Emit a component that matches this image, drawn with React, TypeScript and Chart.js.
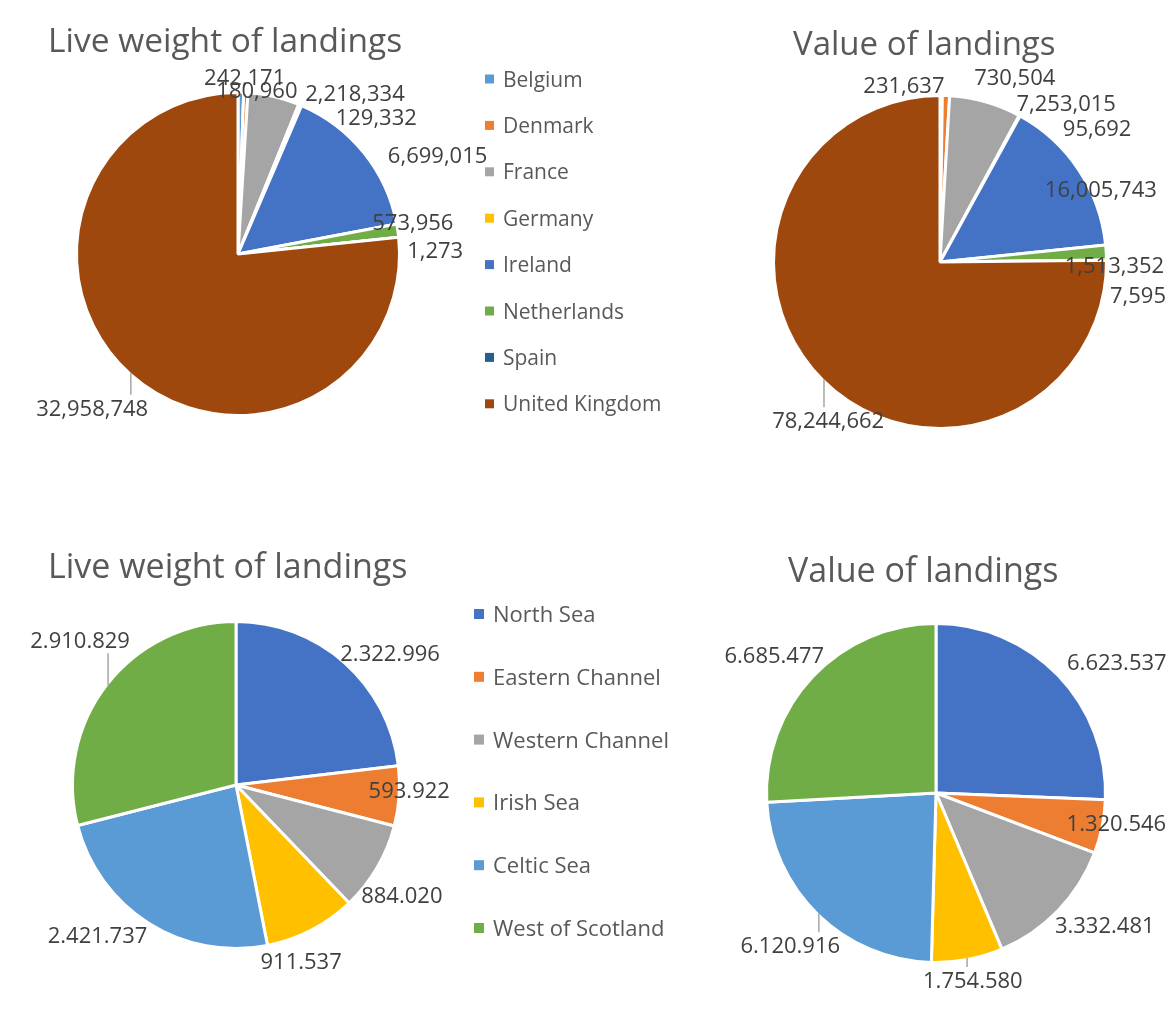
import React, { useEffect, useRef } from "react";
import { Chart, registerables } from "chart.js";

Chart.register(...registerables);

// ---------- data ----------
const countries = ["Belgium", "Denmark", "France", "Germany", "Ireland", "Netherlands", "Spain", "United Kingdom"];
const countryWeight = [242171, 180960, 2218334, 129332, 6699015, 573956, 1273, 32958748];
const countryValue = [231637, 730504, 7253015, 95692, 16005743, 1513352, 7595, 78244662];

const areas = ["North Sea", "Eastern Channel", "Western Channel", "Irish Sea", "Celtic Sea", "West of Scotland"];
const areaWeight = [2322996, 593922, 884020, 911537, 2421737, 2910829];
const areaValue = [6623537, 1320546, 3332481, 1754580, 6120916, 6685477];

const titleWeight = "Live weight of landings";
const titleValue = "Value of landings";

// ---------- styles ----------
const countryColors = ["#5B9BD5", "#ED7D31", "#A5A5A5", "#FFC000", "#4472C4", "#70AD47", "#255E91", "#9E480E"];
const areaColors = ["#4472C4", "#ED7D31", "#A5A5A5", "#FFC000", "#5B9BD5", "#70AD47"];

const FONT = '"Open Sans", "DejaVu Sans", sans-serif';
const BORDER = 3;

// label placement tweaks (Excel-like manual arrangement), in px
const nudgeTL: [number, number][] = [[2, -2], [6, 11], [53, 10], [36, 25], [22, 15], [-28, -4], [6, 16], [20, 21]];
const leaderTL = [false, false, false, false, false, false, false, true];
const nudgeTR: [number, number][] = [[-38, 3], [65, -5], [46, 15], [42, 26], [-36, 32], [-44, 14], [1, 35], [63, 27]];
const leaderTR = [false, false, false, false, false, false, false, true];
const nudgeBL: [number, number][] = [[-6, 3], [-33, -8], [-18, 15], [-52, 18], [0, -1], [25, -32]];
const leaderBL = [false, false, false, false, false, true];
const nudgeBR: [number, number][] = [[7, -1], [-38, -10], [-5, 2], [-18, 7], [24, 18], [13, -9]];
const leaderBR = [false, false, false, true, true, false];

function fmt(n: number, sep: string): string {
  return String(n).replace(/\B(?=(\d{3})+(?!\d))/g, sep);
}

type Panel = {
  left: number; top: number; width: number; height: number;
  cx: number; cy: number; r: number;
  title: string; titleX: number; titleY: number; titleSize: number;
  labels: string[]; values: number[]; colors: string[]; sep: string;
  legend?: { boxX: number; box: number; textX: number; firstY: number; step: number; size: number };
  nudges: [number, number][]; leaders: boolean[];
};

const panels: Panel[] = [
  {
    left: 0, top: 0, width: 700, height: 500, cx: 238, cy: 254, r: 160,
    title: titleWeight, titleX: 48, titleY: 52, titleSize: 33.5,
    labels: countries, values: countryWeight, colors: countryColors, sep: ",",
    legend: { boxX: 485, box: 9, textX: 503, firstY: 79, step: 46.4, size: 21 },
    nudges: nudgeTL, leaders: leaderTL,
  },
  {
    left: 700, top: 0, width: 476, height: 500, cx: 940, cy: 262, r: 165,
    title: titleValue, titleX: 793, titleY: 55, titleSize: 33,
    labels: countries, values: countryValue, colors: countryColors, sep: ",",
    nudges: nudgeTR, leaders: leaderTR,
  },
  {
    left: 0, top: 500, width: 700, height: 524, cx: 236, cy: 785, r: 162,
    title: titleWeight, titleX: 48, titleY: 578, titleSize: 34,
    labels: areas, values: areaWeight, colors: areaColors, sep: ".",
    legend: { boxX: 474, box: 10, textX: 493, firstY: 614, step: 62.8, size: 22 },
    nudges: nudgeBL, leaders: leaderBL,
  },
  {
    left: 700, top: 500, width: 476, height: 524, cx: 936, cy: 793, r: 168,
    title: titleValue, titleX: 788, titleY: 582, titleSize: 34,
    labels: areas, values: areaValue, colors: areaColors, sep: ".",
    nudges: nudgeBR, leaders: leaderBR,
  },
];

function makeDecorPlugin(p: Panel) {
  return {
    id: "decor",
    afterDatasetsDraw(chart: any) {
      const ctx: CanvasRenderingContext2D = chart.ctx;
      ctx.save();
      // title
      ctx.fillStyle = "#595959";
      ctx.textAlign = "left";
      ctx.textBaseline = "alphabetic";
      ctx.font = `${p.titleSize}px ${FONT}`;
      ctx.fillText(p.title, p.titleX - p.left, p.titleY - p.top);

      // legend
      if (p.legend) {
        const lg = p.legend;
        ctx.font = `${lg.size}px ${FONT}`;
        p.labels.forEach((lab, i) => {
          const yc = lg.firstY + i * lg.step - p.top;
          ctx.fillStyle = p.colors[i];
          ctx.fillRect(lg.boxX - p.left, yc - lg.box / 2, lg.box, lg.box);
          ctx.fillStyle = "#595959";
          ctx.fillText(lab, lg.textX - p.left, yc + 0.36 * lg.size);
        });
      }

      // data labels
      const meta = chart.getDatasetMeta(0);
      const size = 22;
      ctx.font = `${size}px ${FONT}`;
      const hh = 11;
      const gap = 4;
      const f = (u: number) => Math.max(-1, Math.min(1, u * 2.5));
      meta.data.forEach((arc: any, i: number) => {
        const { x, y, startAngle, endAngle, outerRadius } = arc.getProps(["x", "y", "startAngle", "endAngle", "outerRadius"], true);
        const mid = (startAngle + endAngle) / 2;
        const dx = Math.cos(mid);
        const dy = Math.sin(mid);
        const rv = outerRadius - BORDER / 2;
        const text = fmt(p.values[i], p.sep);
        const w = ctx.measureText(text).width;
        const hw = w / 2;
        const nd = p.nudges[i] || [0, 0];
        const lx = x + dx * (rv + gap) + hw * f(dx) + nd[0];
        const ly = y + dy * (rv + gap) + hh * f(dy) + nd[1];
        if (p.leaders[i]) {
          const px = x + dx * rv;
          const py = y + dy * rv;
          const qx = Math.max(lx - hw, Math.min(lx + hw, px));
          const qy = Math.max(ly - hh - 2, Math.min(ly + hh + 2, py));
          ctx.strokeStyle = "#A6A6A6";
          ctx.lineWidth = 1.5;
          ctx.beginPath();
          ctx.moveTo(px, py);
          ctx.lineTo(qx, qy);
          ctx.stroke();
        }
        ctx.fillStyle = "#404040";
        ctx.textAlign = "center";
        ctx.fillText(text, lx, ly + 0.357 * size);
        ctx.textAlign = "left";
      });
      ctx.restore();
    },
  };
}

function PiePanel({ p }: { p: Panel }) {
  const ref = useRef<HTMLCanvasElement>(null);
  useEffect(() => {
    const canvas = ref.current;
    if (!canvas) return;
    const lx = p.cx - p.left;
    const ly = p.cy - p.top;
    const side = 2 * p.r + 2 * BORDER;
    const padLeft = lx - p.r - BORDER;
    const padTop = ly - p.r - BORDER;
    const chart = new Chart(canvas, {
      type: "pie",
      data: {
        labels: p.labels,
        datasets: [
          {
            data: p.values,
            backgroundColor: p.colors,
            borderColor: "#FFFFFF",
            borderWidth: BORDER,
            hoverBorderWidth: BORDER,
            hoverOffset: 0,
          },
        ],
      },
      options: {
        responsive: false,
        animation: false,
        devicePixelRatio: 1,
        events: [],
        layout: {
          padding: {
            left: padLeft,
            top: padTop,
            right: p.width - padLeft - side,
            bottom: p.height - padTop - side,
          },
        },
        plugins: {
          legend: { display: false },
          title: { display: false },
          tooltip: { enabled: false },
        },
      },
      plugins: [makeDecorPlugin(p)],
    } as any);
    return () => chart.destroy();
  }, [p]);
  return (
    <canvas
      ref={ref}
      width={p.width}
      height={p.height}
      style={{ position: "absolute", left: p.left, top: p.top, width: p.width, height: p.height }}
    />
  );
}

export default function App() {
  return (
    <div style={{ position: "absolute", left: 0, top: 0, width: 1176, height: 1024, background: "#FFFFFF" }}>
      {panels.map((p, i) => (
        <PiePanel key={i} p={p} />
      ))}
    </div>
  );
}
